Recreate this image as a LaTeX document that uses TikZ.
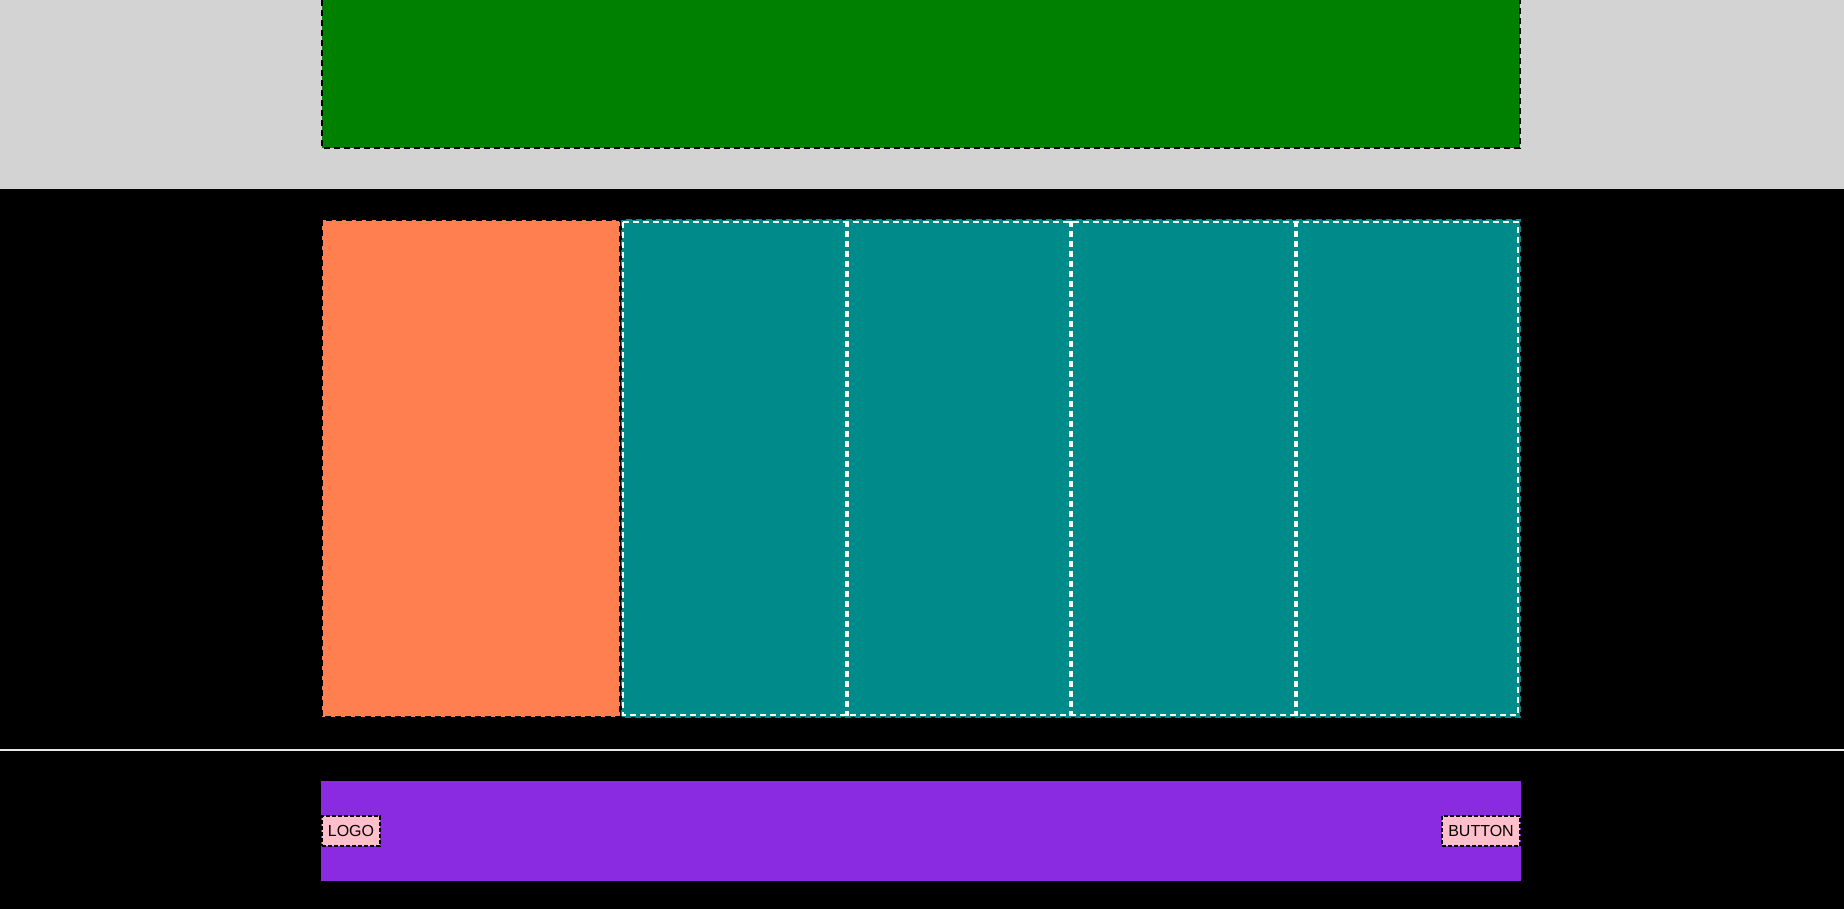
\documentclass[tikz,border=0pt]{standalone}
\usepackage{fontspec}
\setmainfont{Liberation Sans}
\usetikzlibrary{positioning}
\definecolor{bandgray}{HTML}{D3D3D3}
\definecolor{headgreen}{HTML}{008000}
\definecolor{sidecoral}{HTML}{FF7F50}
\definecolor{colteal}{HTML}{008B8B}
\definecolor{footviolet}{HTML}{8A2BE2}
\definecolor{tagpink}{HTML}{FFC0CB}
\definecolor{rulegray}{HTML}{E6E6E6}
\tikzset{
  dashline/.style={line width=1.5pt,dash pattern=on 4.5pt off 3pt},
  headbox/.style={fill=headgreen,draw=black,dashline},
  sidebox/.style={fill=sidecoral,draw=black,dashline},
  wrapbox/.style={fill=colteal,draw=colteal,dashline},
  colbox/.style={draw=white,dashline},
  colsplit/.style={draw=white,line width=3pt,dash pattern=on 4.5pt off 3pt},
  tag/.style={rectangle,fill=tagpink,draw=black,line width=1.5pt,dash pattern=on 3pt off 1.5pt,inner sep=0pt,font=\fontsize{12}{14}\selectfont,minimum height=22.5pt}
}
\begin{document}
\begin{tikzpicture}[x=0.75pt,y=-0.75pt]
  \useasboundingbox (0,0) rectangle (1844,909);
  % page bands
  \fill[bandgray] (0,0) rectangle (1844,189);
  \fill[black] (0,189) rectangle (1844,909);
  % header
  \draw[headbox] (322,-10) rectangle (1520,148);
  % main area
  \draw[sidebox] (322,220) rectangle (620,717);
  \draw[wrapbox] (622,220) rectangle (1520,717);
  \draw[colbox] (623,222) rectangle (1518,715);
  \foreach \i in {1,2,3}
    \draw[colsplit] ({622+224.5*\i},221) -- ({622+224.5*\i},716);
  % divider
  \draw[rulegray,line width=1.5pt] (0,750) -- (1844,750);
  % footer
  \fill[footviolet] (321,781) rectangle (1521,881);
  \node[tag,minimum width=43.5pt] (logo) at (351,831) {LOGO};
  \node[tag,minimum width=58.5pt] (button) at (1481,831) {BUTTON};
\end{tikzpicture}
\end{document}
